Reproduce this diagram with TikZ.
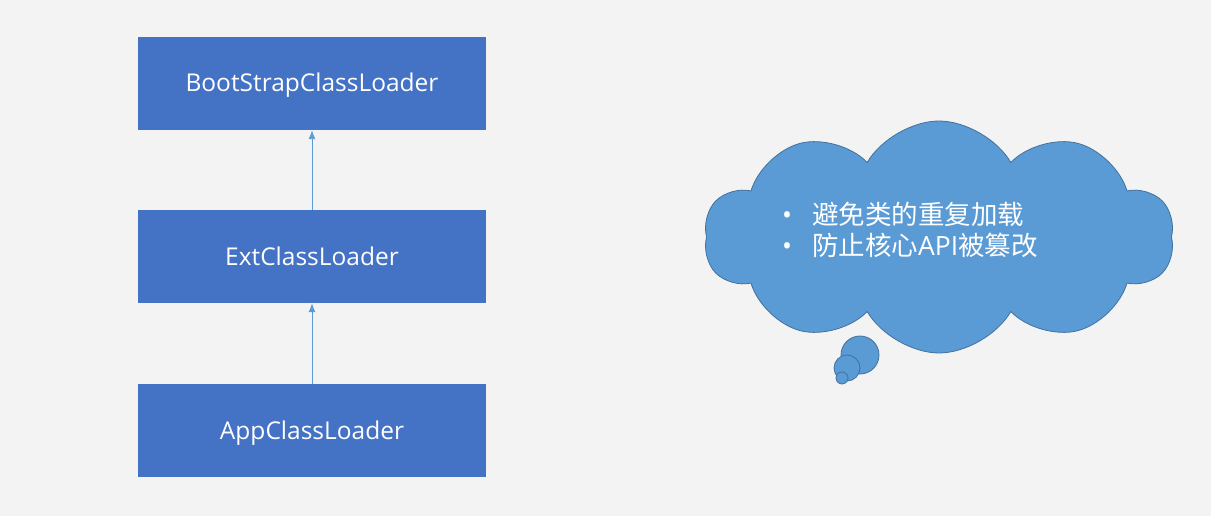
\documentclass[tikz,border=0pt]{standalone}
\usepackage{fontspec}
\setmainfont{Open Sans}
\newfontfamily\cjk{Noto Sans CJK SC}
\usetikzlibrary{shapes.symbols,arrows.meta}
\definecolor{boxBlue}{HTML}{4472C4}
\definecolor{lineBlue}{HTML}{5B9BD5}
\definecolor{cloudEdge}{HTML}{41719C}
\definecolor{bgGray}{HTML}{F3F3F3}

\begin{document}
\begin{tikzpicture}[x=1pt, y=-1pt, >={Latex[length=9pt,width=7pt]}]

  \tikzstyle{C}=[rectangle,fill=boxBlue,text=white,minimum width=348pt,minimum height=93pt,inner sep=0pt,text height=17pt,text depth=0pt,font=\fontsize{24.5}{28}\selectfont]
  \tikzstyle{A}=[->,lineBlue,line width=0.9pt]
  \tikzstyle{P}=[fill=lineBlue,draw=cloudEdge,line width=0.8pt]

  \fill[bgGray] (0,0) rectangle (1211,516);
  \useasboundingbox (0,0) rectangle (1211,516);

  \node[C] at (312,83.5) (boot) {BootStrapClassLoader};
  \node[C] at (312,256.5) (ext) {ExtClassLoader};
  \node[C] at (312,430.5) (app) {AppClassLoader};

  \draw [A] (ext.north) to (boot.south);
  \draw [A] (app.north) to (ext.south);

  % thought bubble
  \node[P, cloud, cloud puffs=10, cloud puff arc=120, aspect=2, minimum width=470pt, minimum height=232pt] at (939,237) (cloud) {};
  \draw [P] (860,355) circle (19);
  \draw [P] (847,368) circle (13);
  \draw [P] (842,378) circle (6);

  \node[text=white, align=left, font=\fontsize{26.5}{32}\selectfont] at (910,234) (reasons)
    {\begin{tabular}{@{}l@{\hspace{20pt}}l@{}}
      \textbullet & {\cjk 避免类的重复加载}\\[-1pt]
      \textbullet & {\cjk 防止核心}API{\cjk 被篡改}
    \end{tabular}};

\end{tikzpicture}
\end{document}
